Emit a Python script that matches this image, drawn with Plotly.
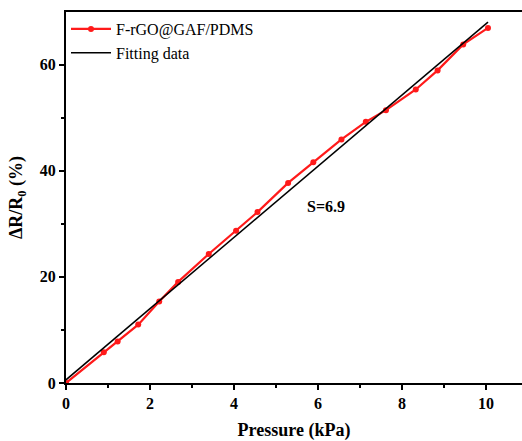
import plotly.graph_objects as go

# Measured response of the sensor
pressure_kpa = [0.0, 0.90, 1.23, 1.72, 2.22, 2.67, 3.40, 4.05, 4.56, 5.29, 5.89,
                6.56, 7.14, 7.62, 8.33, 8.85, 9.46, 10.05]
delta_r = [0.0, 5.8, 7.8, 11.0, 15.35, 19.05, 24.3, 28.7, 32.2, 37.7, 41.6,
           45.9, 49.2, 51.4, 55.3, 58.9, 63.8, 66.9]

# Linear fit end points
fit_x = [0.0, 10.05]
fit_y = [0.6, 68.0]

sensitivity_label = "S=6.9"

FONT = "'Times New Roman', 'Liberation Serif', serif"

fig = go.Figure()
fig.add_trace(go.Scatter(
    x=pressure_kpa, y=delta_r, mode="lines+markers", name="F-rGO@GAF/PDMS",
    line=dict(color="#ff1a1a", width=2.2),
    marker=dict(color="#ff1a1a", size=6),
))
fig.add_trace(go.Scatter(
    x=fit_x, y=fit_y, mode="lines", name="Fitting data",
    line=dict(color="black", width=1.5),
))

fig.add_annotation(
    x=6.2, y=33.3, text="<b>" + sensitivity_label + "</b>", showarrow=False,
    font=dict(family=FONT, size=16, color="black"),
)

fig.update_layout(
    width=522, height=441,
    margin=dict(l=66, r=0, t=12, b=58),
    plot_bgcolor="white", paper_bgcolor="white",
    font=dict(family=FONT, color="black"),
    showlegend=True,
    legend=dict(
        x=0.0, y=1.0, xanchor="left", yanchor="top",
        bgcolor="rgba(0,0,0,0)", font=dict(family=FONT, size=16),
        itemwidth=40, tracegroupgap=0,
    ),
    xaxis=dict(
        range=[0, 10.86], showline=True, linecolor="black", linewidth=2,
        mirror=True, showgrid=False, zeroline=False,
        ticks="outside", ticklen=5, tickwidth=1.5, tickcolor="black",
        tickvals=[0, 2, 4, 6, 8, 10],
        minor=dict(tickvals=[1, 3, 5, 7, 9], ticks="outside", ticklen=3,
                   tickwidth=1.5, tickcolor="black"),
        tickfont=dict(family=FONT, size=16, color="black", weight="bold"),
        title=dict(text="<b>Pressure (kPa)</b>", font=dict(family=FONT, size=18),
                   standoff=12),
    ),
    yaxis=dict(
        range=[0, 69.9], showline=True, linecolor="black", linewidth=2,
        mirror=False, showgrid=False, zeroline=False,
        ticks="outside", ticklen=5, tickwidth=1.5, tickcolor="black",
        tickvals=[0, 20, 40, 60],
        minor=dict(tickvals=[10, 30, 50], ticks="outside", ticklen=3,
                   tickwidth=1.5, tickcolor="black"),
        tickfont=dict(family=FONT, size=16, color="black", weight="bold"),
        title=dict(text="<b>ΔR/R<sub>0</sub> (%)</b>", font=dict(family=FONT, size=18),
                   standoff=12),
    ),
)

fig.write_html("out.html")
